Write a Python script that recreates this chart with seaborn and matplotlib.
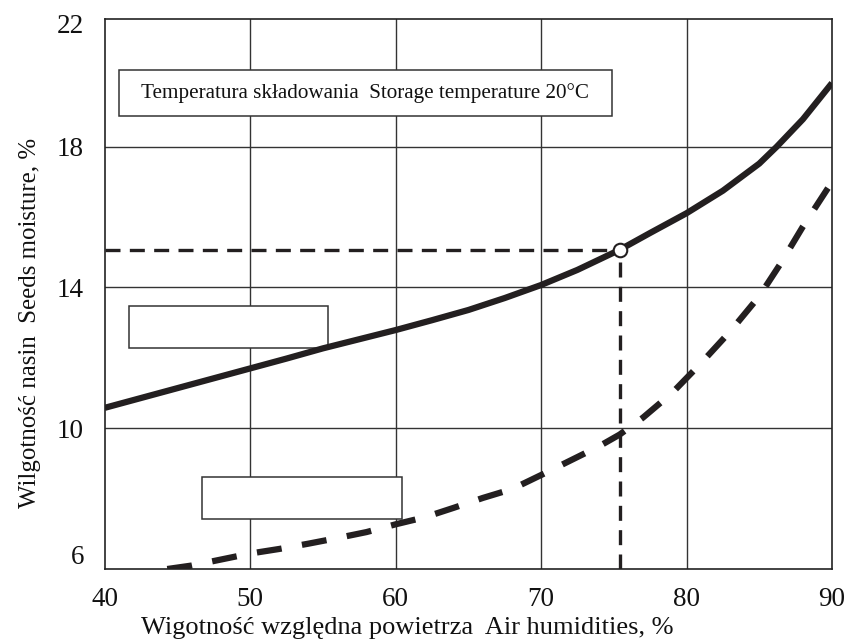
import matplotlib
matplotlib.use("Agg")
import matplotlib.pyplot as plt
from matplotlib.patches import Rectangle
import seaborn as sns
import pandas as pd

# ---- data ----
solid_x = [40, 42.5, 45, 47.5, 50, 52.5, 55, 57.5, 60, 62.5, 65, 67.5, 70, 72.5, 75.4,
           77.5, 80, 82.5, 85, 86.2, 88, 90]
solid_y = [10.58, 10.86, 11.14, 11.42, 11.70, 11.98, 12.27, 12.53, 12.79, 13.07, 13.36,
           13.70, 14.07, 14.50, 15.07, 15.55, 16.11, 16.75, 17.52, 18.0, 18.78, 19.81]

dash_x = [44.3, 46, 48, 50, 52, 54, 56, 58, 60, 62, 64, 66, 68, 70, 72, 74, 75.4,
          77, 79, 81, 83, 85, 86.5, 88, 90]
dash_y = [6.0, 6.1, 6.27, 6.44, 6.57, 6.72, 6.88, 7.05, 7.27, 7.47, 7.74, 8.02, 8.27,
          8.67, 9.08, 9.49, 9.82, 10.3, 11.0, 11.85, 12.75, 13.75, 14.7, 15.73, 17.0]

point_x = [75.4]
point_y = [15.07]

grid_x = [50, 60, 70, 80]
grid_y = [10, 14, 18]
xticks = [40, 50, 60, 70, 80, 90]
xtick_labels = ["40", "50", "60", "70", "80", "90"]
ytick_pos = [6.4, 10, 14, 18, 21.5]
ytick_labels = ["6", "10", "14", "18", "22"]

title_text = "Temperatura składowania  Storage temperature 20°C"
xlabel = "Wigotność względna powietrza  Air humidities, %"
ylabel = "Wilgotność nasin  Seeds moisture, %"

# boxes: (x0, y0, x1, y1) in data units
box_title = (41.0, 18.87, 74.85, 20.18)
box_a = (41.67, 12.29, 55.37, 13.48)
box_b = (46.71, 7.41, 60.41, 8.61)

sns.set_style("white")
plt.rcParams["font.family"] = ["Liberation Serif", "DejaVu Serif"]

ink = "#231f20"

fig = plt.figure(figsize=(8.52, 6.41), dpi=100)
ax = fig.add_axes([0.1229, 0.1123, 0.8536, 0.8581])

for gx in grid_x:
    ax.axvline(gx, color="#333333", lw=1.0, zorder=1)
for gy in grid_y:
    ax.axhline(gy, color="#333333", lw=1.0, zorder=1)

for (x0, y0, x1, y1) in [box_title, box_a, box_b]:
    ax.add_patch(Rectangle((x0, y0), x1 - x0, y1 - y0, facecolor="white",
                           edgecolor="#333333", lw=1.1, zorder=3))
ax.text((box_title[0] + box_title[2]) / 2, (box_title[1] + box_title[3]) / 2, title_text,
        ha="center", va="center", fontsize=15.2, color="#111111", zorder=4)

df_s = pd.DataFrame({"x": solid_x, "y": solid_y})
df_d = pd.DataFrame({"x": dash_x, "y": dash_y})

# reference dashed lines
ax.plot([40, point_x[0]], [point_y[0], point_y[0]], color=ink, lw=2.4,
        linestyle=(0, (4.5, 2.8)), zorder=4)
ax.plot([point_x[0], point_x[0]], [6, point_y[0]], color=ink, lw=2.4,
        linestyle=(0, (4.5, 2.8)), zorder=4)

sns.lineplot(data=df_s, x="x", y="y", ax=ax, color=ink, lw=4.5, zorder=5,
             solid_capstyle="butt", solid_joinstyle="round")
sns.lineplot(data=df_d, x="x", y="y", ax=ax, color=ink, lw=4.5, zorder=5,
             linestyle=(0, (4.0, 3.3)))
sns.scatterplot(x=point_x, y=point_y, ax=ax, s=95, facecolor="white",
                edgecolor=ink, linewidth=1.5, zorder=6)

ax.set_xlim(40, 90)
ax.set_ylim(6.0, 21.63)
ax.set_xticks(xticks)
ax.set_xticklabels(xtick_labels)
ax.set_yticks(ytick_pos)
ax.set_yticklabels(ytick_labels)
ax.tick_params(axis="both", length=0, labelsize=19.5, colors="#111111")
ax.tick_params(axis="x", pad=13)
ax.tick_params(axis="y", pad=15)

for s in ax.spines.values():
    s.set_visible(True)
    s.set_color("#222222")
    s.set_linewidth(1.2)
    s.set_zorder(7)

ax.set_xlabel(xlabel, fontsize=19.0, color="#111111")
ax.set_ylabel(ylabel, fontsize=17.9, color="#111111")
ax.xaxis.set_label_coords(0.4157, -0.088)
ax.yaxis.set_label_coords(-0.088, 0.448)

fig.savefig("out.png", dpi=100)
